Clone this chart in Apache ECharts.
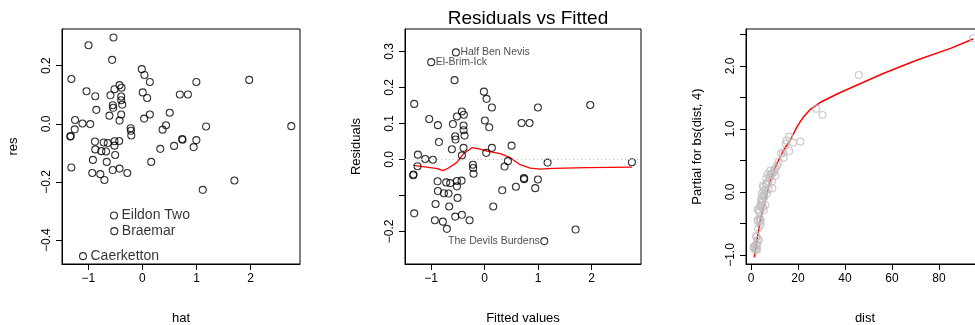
<!DOCTYPE html>
<html><head><meta charset="utf-8">
<script src="https://cdn.jsdelivr.net/npm/echarts@6/dist/echarts.min.js"></script>
<style>html,body{margin:0;padding:0;background:#fff}#c{width:975px;height:325px}</style>
</head><body><div id="c"></div>
<script>
// ---- Panel 1 & 2: fitted values (hat) vs residuals ----
const fitted = [-0.535,-0.996,-0.56,-0.012,0.037,-1.313,0.137,0.996,1.973,-1.033,-0.423,-0.516,-0.386,-0.871,-0.591,-0.392,0.006,0.087,0.691,0.840,-0.392,-0.373,-0.548,-0.541,-0.852,-0.610,-0.392,0.137,0.504,-0.423,-1.245,-1.108,-0.965,0.031,0.436,1.176,2.750,-1.251,-1.332,-1.326,-0.218,-0.212,-0.206,0.373,-0.877,-0.716,-0.641,-0.516,-0.429,-0.516,-0.871,-0.759,-0.672,-0.504,0.330,0.585,0.734,0.740,0.946,0.996,-0.915,-0.660,0.162,-1.313,-0.927,-0.778,-0.548,-0.423,-0.280,-0.703,1.114,1.699,-0.525,-0.52,-1.098];
const resid = [0.297,0.270,0.220,0.188,0.168,0.154,0.144,0.144,0.151,0.112,0.133,0.119,0.124,0.095,0.098,0.094,0.108,0.089,0.101,0.101,0.081,0.066,0.064,0.055,0.048,0.028,0.032,0.032,0.038,0.011,0.013,0.001,-0.001,0.018,-0.005,-0.009,-0.008,-0.019,-0.044,-0.042,-0.015,-0.024,-0.040,-0.020,-0.061,-0.064,-0.066,-0.060,-0.059,-0.075,-0.088,-0.094,-0.095,-0.107,-0.086,-0.076,-0.052,-0.055,-0.080,-0.056,-0.124,-0.131,-0.131,-0.150,-0.169,-0.173,-0.159,-0.154,-0.169,-0.193,-0.227,-0.195,-0.315,-0.369,-0.455];
const p1LabelIdx = [72, 73, 74];
const p1LabelNames = ['Eildon Two', 'Braemar', 'Caerketton'];
const p2LabelIdx = [0, 1, 70];
const p2LabelNames = ['Half Ben Nevis', 'El-Brim-Ick', 'The Devils Burdens'];
const p2LabelPos = ['right', 'right', 'left'];
// lowess smooth (panel 2)
const lowessX = [-1.325,-1.014,-0.877,-0.778,-0.672,-0.516,-0.392,-0.236,-0.081,0.044,0.292,0.479,0.666,0.852,1.039,1.288,1.91,2.75];
const lowessY = [-0.0167,-0.0231,-0.0259,-0.0315,-0.0241,-0.0083,0.0157,0.0324,0.0287,0.0231,0.0157,0.0046,-0.0148,-0.0241,-0.0269,-0.025,-0.0231,-0.0213];
// ---- Panel 3: partial residual plot ----
const dist = [94.5,45.9,27.8,30.4,16.2,15.1,21.0,17.9,14.8,16.3,12.8,13.9,11.8,10.5,9.1,8.2,10.4,7.1,6.5,9.1,5.0,7.5,5.8,6.8,5.4,4.4,6.1,4.0,5.4,2.8,4.0,3.0,4.0,3.0,2.3,3.3,2.3,1.4,2.0,1.1,2.6,13.6,9.9,8.2,8.9,6.8,5.4,7.5,4.7,5.7,4.7,4.0,5.1,3.2,3.7,2.8,4.0,2.3,2.8,1.4,2.0,2.6,6.0,6.4,7.8,8.6,5.2,4.4,3.6,11.2,9.6,4.8];
const partial = [2.44,1.857,1.323,1.222,0.878,0.815,0.799,0.783,0.762,0.651,0.614,0.545,0.481,0.376,0.296,0.339,0.259,0.286,0.217,0.058,0.095,0.164,0.032,-0.021,-0.074,-0.153,-0.206,-0.233,-0.286,-0.275,-0.444,-0.444,-0.524,-0.577,-0.709,-0.762,-0.825,-0.868,-0.921,-0.894,-0.910,0.614,0.349,0.27,0.164,0.138,0.084,0.043,-0.021,-0.074,-0.127,-0.206,-0.243,-0.286,-0.418,-0.455,-0.471,-0.709,-0.762,-0.868,-0.894,-0.85,0.02,0.12,0.22,0.28,-0.05,-0.1,-0.32,0.42,0.31,-0.15];
const fitX = [1.42,2.56,3.98,6.11,8.24,11.08,13.92,16.76,19.6,22.4,25.3,29.8,36.6,45.2,56.5,70.7,84.9,94.5];
const fitY = [-1.037,-0.762,-0.444,-0.127,0.190,0.455,0.667,0.825,1.037,1.196,1.312,1.429,1.556,1.698,1.884,2.095,2.28,2.429];
// ---- ticks ----
const xTicks12 = [-1, 0, 1, 2];
const yTicks1 = [-0.4, -0.2, 0, 0.2];
const yTicks2 = [-0.2, -0.1, 0, 0.1, 0.2, 0.3];
const yLabels2 = [-0.2, 0, 0.1, 0.2, 0.3];
const xTicks3 = [0, 20, 40, 60, 80];
const yTicks3 = [-1, -0.5, 0, 0.5, 1, 1.5, 2, 2.5];
const yLabels3 = [-1, 0, 1, 2];

const FONT = "'Liberation Sans', Arial, Helvetica, sans-serif";
const minus = s => String(s).replace('-', '\u2212');
const fmt1 = v => minus((Math.round(v * 10) / 10).toFixed(1));
const fmt0 = v => minus(String(Math.round(v)));

function mkX(gi, min, max, ticks, labels, name, fmt) {
  return {
    type: 'value', gridIndex: gi, min, max, name, nameLocation: 'middle', nameGap: 48,
    nameTextStyle: { fontFamily: FONT, fontSize: 13, color: '#000' },
    axisLine: { show: true, onZero: false, lineStyle: { color: '#000', width: 1 } }, splitLine: { show: false },
    axisTick: { show: true, inside: false, length: 6, customValues: ticks, lineStyle: { color: '#000', width: 1 } },
    axisLabel: { show: true, margin: 9, customValues: labels, formatter: fmt, fontFamily: FONT, fontSize: 12, color: '#000' }
  };
}
function mkY(gi, min, max, ticks, labels, name, fmt) {
  return {
    type: 'value', gridIndex: gi, min, max, name, nameLocation: 'middle', nameGap: 42, nameRotate: 90,
    nameTextStyle: { fontFamily: FONT, fontSize: 13, color: '#000' },
    axisLine: { show: true, onZero: false, lineStyle: { color: '#000', width: 1 } }, splitLine: { show: false },
    axisTick: { show: true, inside: false, length: 6, customValues: ticks, lineStyle: { color: '#000', width: 1 } },
    axisLabel: { show: true, rotate: 90, margin: 9, customValues: labels, formatter: fmt, fontFamily: FONT, fontSize: 12, color: '#000' }
  };
}
const pts = (xs, ys) => xs.map((x, i) => [x, ys[i]]);
const circ = (color) => ({ color: 'rgba(0,0,0,0)', borderColor: color, borderWidth: 1.1 });
const gridBase = { top: 29, height: 235, show: true, borderColor: '#000', borderWidth: 1, backgroundColor: 'transparent', outerBoundsMode: 'none', containLabel: false };

const option = {
  animation: false,
  backgroundColor: '#fff',
  title: { text: 'Residuals vs Fitted', left: 523, top: 4, textAlign: 'center',
    textStyle: { fontFamily: FONT, fontSize: 19, fontWeight: 'normal', color: '#000' } },
  grid: [
    Object.assign({ left: 62, width: 238 }, gridBase),
    Object.assign({ left: 405, width: 236 }, gridBase),
    Object.assign({ left: 746, width: 238 }, gridBase)
  ],
  xAxis: [
    mkX(0, -1.486, 2.911, xTicks12, xTicks12, 'hat', fmt0),
    mkX(1, -1.485, 2.92, xTicks12, xTicks12, 'Fitted values', fmt0),
    mkX(2, -2.13, 99.15, xTicks3, xTicks3, 'dist', fmt0)
  ],
  yAxis: [
    mkY(0, -0.482, 0.326, yTicks1, yTicks1, 'res', fmt1),
    mkY(1, -0.2906, 0.362, yTicks2, yLabels2, 'Residuals', fmt1),
    mkY(2, -1.143, 2.587, yTicks3, yLabels3, 'Partial for bs(dist, 4)', fmt1)
  ],
  series: [
    { type: 'scatter', xAxisIndex: 0, yAxisIndex: 0, symbol: 'circle', symbolSize: 7, silent: true,
      data: pts(fitted, resid), itemStyle: circ('#000') },
    { type: 'scatter', xAxisIndex: 0, yAxisIndex: 0, symbol: 'circle', symbolSize: 7, silent: true,
      data: p1LabelIdx.map((k, i) => ({ value: [fitted[k], resid[k]], name: p1LabelNames[i] })),
      itemStyle: { color: 'rgba(0,0,0,0)', borderWidth: 0 },
      label: { show: true, position: 'right', distance: 4, formatter: '{b}', fontFamily: FONT, fontSize: 14, color: '#000' } },
    { type: 'line', xAxisIndex: 1, yAxisIndex: 1, data: [], silent: true,
      markLine: { silent: true, symbol: 'none', label: { show: false },
        lineStyle: { color: '#bebebe', type: [1, 3], width: 1 }, data: [{ yAxis: 0 }] } },
    { type: 'line', xAxisIndex: 1, yAxisIndex: 1, data: pts(lowessX, lowessY), symbol: 'none', silent: true,
      lineStyle: { color: '#ff0000', width: 1.3 }, z: 3 },
    { type: 'scatter', xAxisIndex: 1, yAxisIndex: 1, symbol: 'circle', symbolSize: 7, silent: true, clip: true,
      data: pts(fitted, resid), itemStyle: circ('#000'), z: 4 },
    { type: 'scatter', xAxisIndex: 1, yAxisIndex: 1, symbol: 'circle', symbolSize: 7, silent: true,
      data: p2LabelIdx.map((k, i) => ({ value: [fitted[k], resid[k]], name: p2LabelNames[i],
        label: { position: p2LabelPos[i] } })),
      itemStyle: { color: 'rgba(0,0,0,0)', borderWidth: 0 },
      label: { show: true, distance: 1, formatter: '{b}', fontFamily: FONT, fontSize: 10.5, color: '#222' } },
    { type: 'line', xAxisIndex: 2, yAxisIndex: 2, data: pts(fitX, fitY), symbol: 'none', silent: true,
      lineStyle: { color: '#ff0000', width: 1.5 }, z: 2 },
    { type: 'scatter', xAxisIndex: 2, yAxisIndex: 2, symbol: 'circle', symbolSize: 7, silent: true, clip: false,
      data: pts(dist, partial), itemStyle: circ('#bebebe'), z: 3 }
  ]
};
const chart = echarts.init(document.getElementById('c'), null, { renderer: 'canvas' });
chart.setOption(option);
</script>
</body></html>
